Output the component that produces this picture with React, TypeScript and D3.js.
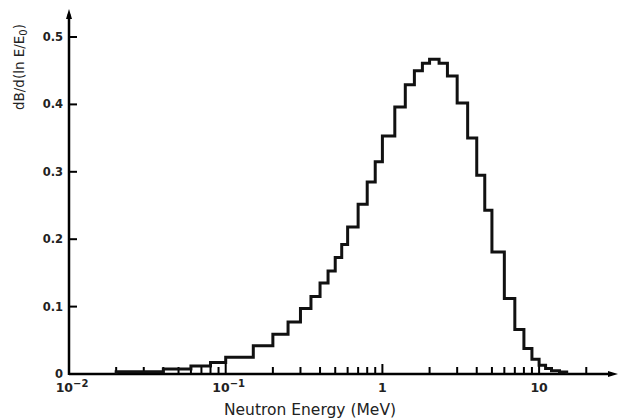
import React, { useEffect, useRef } from 'react'
import * as d3 from 'd3'

// bin edges in MeV (log spaced-ish) and the yield per bin
const binEdges = [0.02, 0.04, 0.06, 0.08, 0.1, 0.15, 0.2, 0.25, 0.3, 0.35, 0.4, 0.45, 0.5, 0.55, 0.6, 0.7, 0.8, 0.9, 1.0,
  1.2, 1.4, 1.6, 1.8, 2.0, 2.3, 2.6, 3.0, 3.5, 4.0, 4.5, 5.0, 6.0, 7.0, 8.0, 9.0, 10, 11, 12, 13.5, 15]
const binValues = [0.0034, 0.0074, 0.012, 0.017, 0.025, 0.042, 0.059, 0.077, 0.097, 0.115, 0.135, 0.153, 0.173, 0.192,
  0.218, 0.252, 0.285, 0.315, 0.353, 0.396, 0.429, 0.45, 0.461, 0.467, 0.461, 0.442, 0.402, 0.35, 0.295, 0.243, 0.181,
  0.112, 0.066, 0.038, 0.022, 0.013, 0.008, 0.005, 0.003]
const yTicks = [0, 0.1, 0.2, 0.3, 0.4, 0.5]
const yTickLabels = ['0', '0.1', '0.2', '0.3', '0.4', '0.5']
const xMajor = [0.01, 0.1, 1, 10]
const xMajorBase = ['10', '10', '1', '10']
const xMajorExp = ['-2', '-1', '', '']

function App() {
  const svgRef = useRef<SVGSVGElement>(null)

  useEffect(() => {
    const width = 619
    const height = 419
    const svg = d3.select(svgRef.current)
    svg.selectAll('*').remove()
    svg.attr('width', width).attr('height', height)

    const x0 = 69
    const decade = 156.7
    const xScale = d3.scaleLog()
      .domain([0.01, 25])
      .range([x0, x0 + decade * Math.log10(2500)])
    const yScale = d3.scaleLinear()
      .domain([0, 0.5])
      .range([374, 37])

    const baseY = yScale(0)
    const font = 'DejaVu Sans, Verdana, sans-serif'

    // axes lines
    svg.append('line')
      .attr('x1', x0).attr('x2', 612)
      .attr('y1', baseY).attr('y2', baseY)
      .attr('stroke', '#000').attr('stroke-width', 2.5)
    svg.append('line')
      .attr('x1', x0).attr('x2', x0)
      .attr('y1', baseY + 1).attr('y2', 14)
      .attr('stroke', '#000').attr('stroke-width', 2.5)
    // arrow heads
    svg.append('path')
      .attr('d', `M618,${baseY} L608,${baseY - 3} L608,${baseY + 3} Z`)
      .attr('fill', '#000')
    svg.append('path')
      .attr('d', `M${x0},9 L${x0 - 3},19 L${x0 + 3},19 Z`)
      .attr('fill', '#000')

    // x ticks
    const minor = xScale.ticks().filter(t => t > 0.01 && t < 25)
    svg.append('g').selectAll('line')
      .data(minor)
      .join('line')
      .attr('x1', d => xScale(d)).attr('x2', d => xScale(d))
      .attr('y1', baseY)
      .attr('y2', d => xMajor.some(m => Math.abs(m - d) < 1e-9) ? baseY - 10 : baseY - 7)
      .attr('stroke', '#000').attr('stroke-width', 2)

    // y ticks
    svg.append('g').selectAll('line')
      .data(yTicks.slice(1))
      .join('line')
      .attr('x1', x0).attr('x2', x0 + 8)
      .attr('y1', d => yScale(d)).attr('y2', d => yScale(d))
      .attr('stroke', '#000').attr('stroke-width', 2)

    svg.append('g').selectAll('text')
      .data(yTicks)
      .join('text')
      .attr('x', 63)
      .attr('y', d => yScale(d))
      .attr('dy', '0.35em')
      .attr('text-anchor', 'end')
      .attr('font-family', font)
      .attr('font-size', 11.5)
      .attr('font-weight', 'bold')
      .attr('fill', '#222')
      .text((d, i) => yTickLabels[i])

    // x tick labels
    const xl = svg.append('g').selectAll('text')
      .data(xMajor)
      .join('text')
      .attr('x', (d, i) => xScale(d) + (xMajorExp[i] ? 3 : 0))
      .attr('y', 392)
      .attr('text-anchor', 'middle')
      .attr('font-family', font)
      .attr('font-size', 12.5)
      .attr('font-weight', 'bold')
      .attr('fill', '#222')
    xl.append('tspan').text((d, i) => xMajorBase[i])
    xl.append('tspan')
      .attr('dy', -5)
      .attr('font-size', 10)
      .text((d, i) => xMajorExp[i] ? xMajorExp[i].replace('-', '\u2212') : '')

    // axis titles
    svg.append('text')
      .attr('x', 310).attr('y', 415)
      .attr('text-anchor', 'middle')
      .attr('font-family', font)
      .attr('font-size', 15.5)
      .attr('fill', '#222')
      .text('Neutron Energy (MeV)')

    const yt = svg.append('text')
      .attr('transform', 'translate(24,67) rotate(-90)')
      .attr('text-anchor', 'middle')
      .attr('font-family', font)
      .attr('font-size', 13.5)
      .attr('fill', '#222')
    yt.append('tspan').text('dB/d(ln E/E')
    yt.append('tspan').attr('dy', 3).attr('font-size', 10).text('0')
    yt.append('tspan').attr('dy', -3).text(')')

    // histogram outline
    const pts: [number, number][] = [[binEdges[0], 0]]
    binValues.forEach((v, i) => {
      pts.push([binEdges[i], v])
      pts.push([binEdges[i + 1], v])
    })
    pts.push([binEdges[binEdges.length - 1], 0])
    const line = d3.line<[number, number]>()
      .x(d => xScale(d[0]))
      .y(d => yScale(d[1]))
    svg.append('path')
      .datum(pts)
      .attr('d', line)
      .attr('fill', 'none')
      .attr('stroke', '#111')
      .attr('stroke-width', 3)
      .attr('stroke-linejoin', 'miter')
  }, [])

  return <svg ref={svgRef} style={{ position: 'absolute', left: 0, top: 0 }}></svg>
}

export default App
